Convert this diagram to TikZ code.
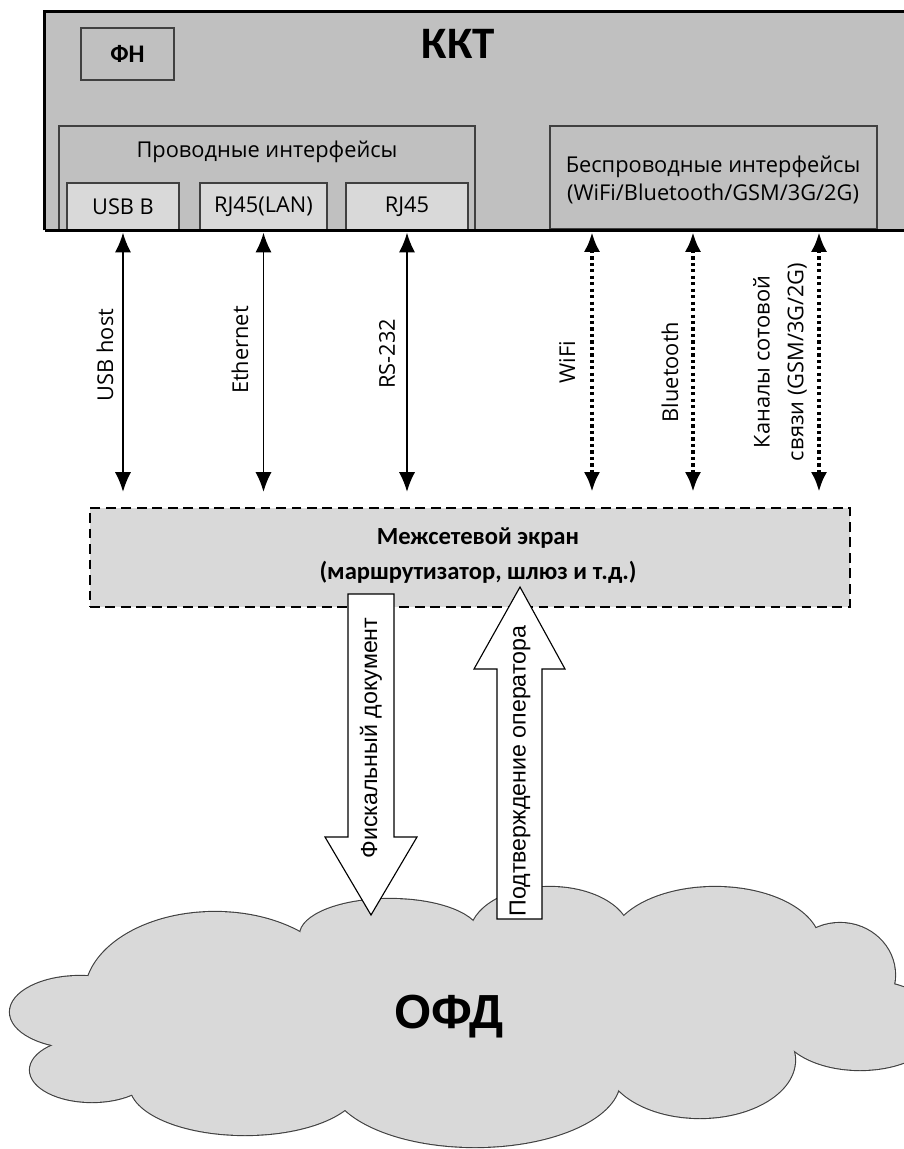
\documentclass[tikz,border=0pt]{standalone}
\usepackage{fontspec}
\setmainfont{Open Sans}
\newfontfamily\calfont{Carlito}
\newfontfamily\arialfont{Liberation Sans}
\usetikzlibrary{arrows.meta,fit,calc}

\definecolor{kktgray}{HTML}{C0C0C0}
\definecolor{boxgray}{HTML}{D9D9D9}
\definecolor{edgegray}{HTML}{404040}

\newcommand\cloudlobes{215/995/130/83, 390/935/90/36, 550/935/80/48, 715/945/105/58,
  840/975/55/52, 860/1025/80/45, 700/1060/95/58, 475/1080/145/67, 245/1085/115/50,
  92/1070/62/32, 80/1012/70/36}

\tikzset{
  kktbox/.style={fill=kktgray, inner sep=0pt},
  group/.style={draw=edgegray, line width=0.9pt, fill=kktgray, inner sep=0pt},
  port/.style={draw=edgegray, line width=0.9pt, fill=boxgray, inner sep=0pt},
  txt/.style={font=\fontsize{15.5}{20}\selectfont, inner sep=0pt},
  boldtxt/.style={font=\calfont\bfseries\fontsize{17.5}{25}\selectfont, inner sep=0pt},
  tip/.tip={Latex[length=14pt,width=11.5pt]},
  wired/.style={line width=1.1pt, tip-tip, shorten >=11pt, shorten <=1.5pt},
  wireless/.style={line width=3pt, dash pattern=on 2.3pt off 2.3pt, tip-tip, shorten >=11pt, shorten <=1.5pt},
  lbl/.style={txt, rotate=90, align=center},
  fwbox/.style={draw=black, line width=1pt, dash pattern=on 7pt off 4pt, fill=boxgray, inner sep=0pt},
  block/.style={draw=black, line width=0.8pt, fill=white},
  blocktxt/.style={font=\arialfont\fontsize{16.5}{20}\selectfont, rotate=90, inner sep=0pt},
}

\begin{document}
\begin{tikzpicture}[x=0.025cm, y=-0.025cm]
  \useasboundingbox (0,0) rectangle (903,1149);

  \node[kktbox, fit={(45,12) (960,230)}] (kkt) {};
  \node[font=\calfont\bfseries\fontsize{32}{36}\selectfont, inner sep=0pt] (kktname) at (458,44) {ККТ};
  \node[group, fit={(81,28) (174,80)}] (fn) {};
  \node[font=\calfont\bfseries\fontsize{18}{20}\selectfont, inner sep=0pt] at (fn) {ФН};

  \node[group, fit={(59,126) (475,230)}] (wiredgrp) {};
  \node[txt] (wiredname) at (267,152) {Проводные интерфейсы};
  \node[port, fit={(67,183) (179,230)}] (usb) {};
  \node[port, fit={(200,183) (327,230)}] (lan) {};
  \node[port, fit={(346,183) (468,230)}] (rs) {};
  \node[txt] at (usb) {USB B};
  \node[txt] at (lan) {RJ45(LAN)};
  \node[txt] at (rs) {RJ45};

  \node[group, fit={(550,126) (877,229)}] (wlgrp) {};
  \node[txt, align=center] (wlname) at (713,180) {Беспроводные интерфейсы\\(WiFi/Bluetooth/GSM/3G/2G)};
  \draw[line width=2.2pt] (kkt.south west) -- (kkt.north west) -- (kkt.north east) (kkt.south west) -- (kkt.south east);

  \node[fwbox, fit={(90,508) (850,607)}] (fw) {};
  \node[boldtxt] (fwname) at (478,538) {Межсетевой экран};
  \node[boldtxt] (fwnote) at (478,572) {(маршрутизатор, шлюз и т.д.)};

  \coordinate (wifi) at (592,230);
  \coordinate (bt) at (693,230);
  \coordinate (gsm) at (819,230);

  \draw[wired] (usb.south) -- (usb.south |- fw.north);
  \draw[wired] (lan.south) -- (lan.south |- fw.north);
  \draw[wired] (rs.south) -- (rs.south |- fw.north);
  \draw[wireless] (wifi) -- (wifi |- fw.north);
  \draw[wireless] (bt) -- (bt |- fw.north);
  \draw[wireless] (gsm) -- (gsm |- fw.north);

  \node[lbl] at (105,355) {USB host};
  \node[lbl] at (240,350) {Ethernet};
  \node[lbl] at (387,354) {RS-232};
  \node[lbl] at (567,362) {WiFi};
  \node[lbl] at (670,372) {Bluetooth};
  \node[lbl, font=\fontsize{15.5}{24}\selectfont] at (780,362) {Каналы сотовой\\связи (GSM/3G/2G)};

  \foreach \cx/\cy/\rx/\ry in \cloudlobes
    \draw[edgegray, line width=1.6pt] (\cx,\cy) ellipse [x radius=\rx, y radius=\ry];
  \foreach \cx/\cy/\rx/\ry in \cloudlobes
    \fill[boxgray] (\cx,\cy) ellipse [x radius=\rx, y radius=\ry];
  \fill[boxgray] (470,1010) ellipse [x radius=330, y radius=85];
  \node[font=\arialfont\bfseries\fontsize{34}{38}\selectfont, inner sep=0pt] (ofd) at (449,1017) {ОФД};

  \draw[block] (348,594) -- (394,594) -- (394,837) -- (417,837) -- (371,915) -- (325,837) -- (348,837) -- cycle;
  \draw[block] (497,919) -- (542,919) -- (542,669) -- (565,669) -- (520,587) -- (474,669) -- (497,669) -- cycle;
  \node[blocktxt] at (371,738) {Фискальный документ};
  \node[blocktxt] at (520,771) {Подтверждение оператора};
\end{tikzpicture}
\end{document}
